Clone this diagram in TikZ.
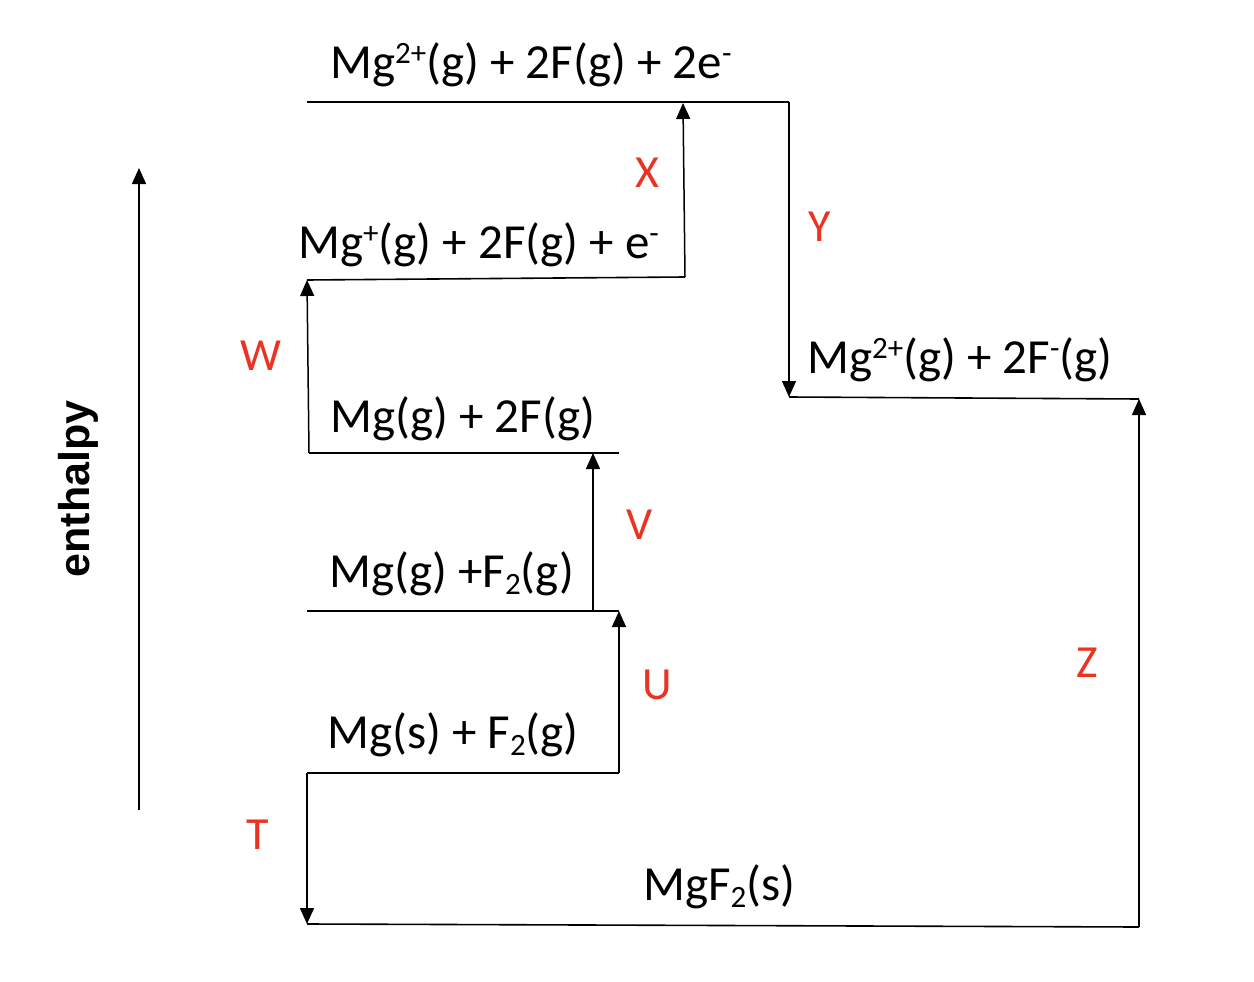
\documentclass[tikz,border=0pt]{standalone}
\usepackage{fontspec}
\setmainfont{Carlito}
\newfontfamily\axisfont{Liberation Sans}
\usetikzlibrary{arrows.meta}
\definecolor{lblred}{RGB}{234,51,35}
\newcommand{\upsc}[1]{\raisebox{0.3em}{\fontsize{31}{31}\selectfont #1}}
\newcommand{\dnsc}[1]{\raisebox{-0.16em}{\fontsize{31}{31}\selectfont #1}}
\tikzset{
  levelline/.style={line width=1.6pt},
  trans/.style={line width=1.5pt,-{Triangle[length=16pt,width=14pt]}},
  species/.style={inner sep=0pt,anchor=base west,font=\fontsize{49}{56}\selectfont},
  steplbl/.style={inner sep=0pt,text=lblred,font=\fontsize{46}{54}\selectfont},
}
\begin{document}
\begin{tikzpicture}[x=1pt,y=-1pt]
\useasboundingbox (0,0) rectangle (1254,982);
% level end points
\coordinate (a1) at (307,102); \coordinate (a2) at (789,102); \coordinate (xe) at (683,103);
\coordinate (b1) at (307,280); \coordinate (b2) at (685,277);
\coordinate (c1) at (309,453); \coordinate (c2) at (619,453); \coordinate (ve) at (593,453);
\coordinate (d1) at (307,611); \coordinate (d2) at (619,611); \coordinate (vs) at (593,611);
\coordinate (e1) at (307,773); \coordinate (e2) at (619,773);
\coordinate (f1) at (307,924); \coordinate (f2) at (1139,927);
\coordinate (g1) at (789,397); \coordinate (g2) at (1139,399);
\coordinate (ax1) at (139,810); \coordinate (ax2) at (139,168);
% levels
\draw[levelline] (a1) -- (a2);
\draw[levelline] (b1) -- (b2);
\draw[levelline] (c1) -- (c2);
\draw[levelline] (d1) -- (d2);
\draw[levelline] (e1) -- (e2);
\draw[levelline] (f1) -- (f2);
\draw[levelline] (g1) -- (g2);
% transitions
\draw[trans] (e1) -- (f1);
\draw[trans] (e2) -- (d2);
\draw[trans] (vs) -- (ve);
\draw[trans] (c1) -- (b1);
\draw[trans] (b2) -- (xe);
\draw[trans] (a2) -- (g1);
\draw[trans] (f2) -- (g2);
\draw[trans] (ax1) -- (ax2);
% species
\node[species] (sa) at (330,78) {Mg\upsc{2+}(g) + 2F(g) + 2e\upsc{-}};
\node[species] (sb) at (298,258) {Mg\upsc{+}(g) + 2F(g) + e\upsc{-}};
\node[species] (sc) at (330,432) {Mg(g) + 2F(g)};
\node[species] (sd) at (329,587) {Mg(g) +F\dnsc{2}(g)};
\node[species] (se) at (327,748) {Mg(s) + F\dnsc{2}(g)};
\node[species] (sf) at (643,900) {MgF\dnsc{2}(s)};
\node[species] (sg) at (807,373) {Mg\upsc{2+}(g) + 2F\upsc{-}(g)};
% step labels
\node[steplbl] (lx) at (647,173) {X};
\node[steplbl] (ly) at (820,227) {Y};
\node[steplbl] (lw) at (261,356) {W};
\node[steplbl] (lv) at (640,525) {V};
\node[steplbl] (lu) at (657,685) {U};
\node[steplbl] (lt) at (258,835) {T};
\node[steplbl] (lz) at (1087,663) {Z};
% axis label
\node[inner sep=0pt,rotate=90,font=\axisfont\bfseries\fontsize{43}{50}\selectfont] (axl) at (78,489) {enthalpy};
\end{tikzpicture}
\end{document}
